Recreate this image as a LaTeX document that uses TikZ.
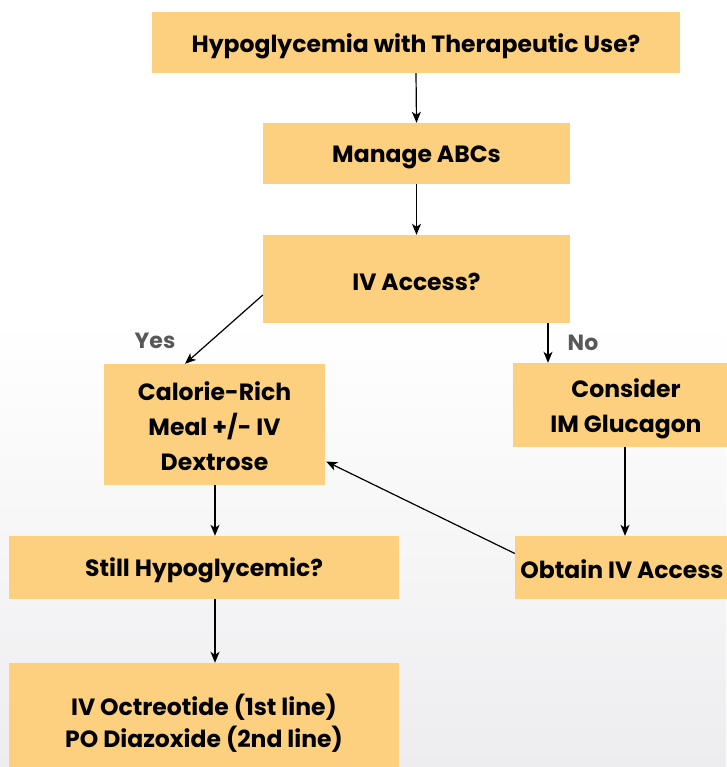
\documentclass[tikz,border=0pt]{standalone}
\usepackage{fontspec}
\setmainfont{Poppins}
\usetikzlibrary{arrows.meta,calc}
\definecolor{boxfill}{HTML}{FCD07E}
\definecolor{lblgray}{HTML}{58585A}
\definecolor{bgbottom}{HTML}{EDEDEF}
\begin{document}
\begin{tikzpicture}[x=1pt,y=-1pt,
  box/.style={fill=boxfill,draw=none,inner sep=0pt},
  txt/.style={align=center,font=\fontsize{23.5}{35}\selectfont\bfseries,inner sep=0pt},
  arr/.style={draw=black,line width=1.2pt,-{Stealth[length=11pt,width=9pt,inset=3pt]}},
  lbl/.style={text=lblgray,font=\fontsize{22}{26}\selectfont\bfseries,inner sep=0pt}]
\useasboundingbox (0,0) rectangle (726,767);
\shade[top color=white,bottom color=bgbottom] (0,320) rectangle (726,767);
\fill[white] (0,0) rectangle (726,320);
% boxes
\node[box,minimum width=528,minimum height=61] (b1) at (416,42.5) {};
\node[box,minimum width=307,minimum height=61] (b2) at (416.5,153.5) {};
\node[box,minimum width=307,minimum height=88] (b3) at (416.5,279) {};
\node[box,minimum width=221,minimum height=121] (b4) at (214.5,424.5) {};
\node[box,minimum width=226,minimum height=84] (b5) at (626,405) {};
\node[box,minimum width=390,minimum height=63] (b6) at (204,567.5) {};
\node[box,minimum width=222,minimum height=63] (b7) at (626,567.5) {};
\node[box,minimum width=390,minimum height=120] (b8) at (204,723) {};
% texts
\node[txt] (t1) at ($(b1)+(0,3.5)$) {Hypoglycemia with Therapeutic Use?};
\node[txt] (t2) at ($(b2)+(0,3.5)$) {Manage ABCs};
\node[txt] (t3) at ($(b3)+(0,3)$) {IV Access?};
\node[txt] (t4) at ($(b4)+(0,2)$) {Calorie-Rich\\Meal +/- IV\\Dextrose};
\node[txt] (t5) at ($(b5)+(0,3.5)$) {Consider\\IM Glucagon};
\node[txt] (t6) at ($(b6)+(0,3)$) {Still Hypoglycemic?};
\node[txt] (t7) at ($(b7)+(-4,2)$) {Obtain IV Access};
\node[txt,font=\fontsize{23.5}{32}\selectfont\bfseries] (t8) at ($(b8)+(0,0)$) {IV Octreotide (1st line)\\PO Diazoxide (2nd line)};
% anchor points
\coordinate (b3w) at ($(b3.west)+(0,16)$);
\coordinate (b4n) at (b4.north -| 185,0);
\coordinate (b3s) at (b3.south -| 548,0);
\coordinate (b5n) at (b5.north -| 548,0);
\coordinate (b5s) at (b5.south -| 625,0);
\coordinate (b7n) at (b7.north -| 625,0);
\coordinate (b7w) at ($(b7.west)+(0,-14)$);
\coordinate (b4e) at ($(b4.east)+(1,37)$);
\coordinate (b4s) at (b4.south -| 215,0);
\coordinate (b6n) at (b6.north -| 215,0);
\coordinate (b6s) at (b6.south -| 215,0);
\coordinate (b8n) at (b8.north -| 215,0);
% connectors
\draw[arr] (b1.south) -- (b2.north);
\draw[arr] (b2.south) -- (b3.north);
\draw[arr] (b3w) -- (b4n);
\draw[arr] (b3s) -- (b5n);
\draw[arr] (b5s) -- (b7n);
\draw[arr] (b7w) -- (b4e);
\draw[arr] (b4s) -- (b6n);
\draw[arr] (b6s) -- (b8n);
% labels
\node[lbl] (yes) at (155,341) {Yes};
\node[lbl] (no) at (583,343) {No};
\end{tikzpicture}
\end{document}
